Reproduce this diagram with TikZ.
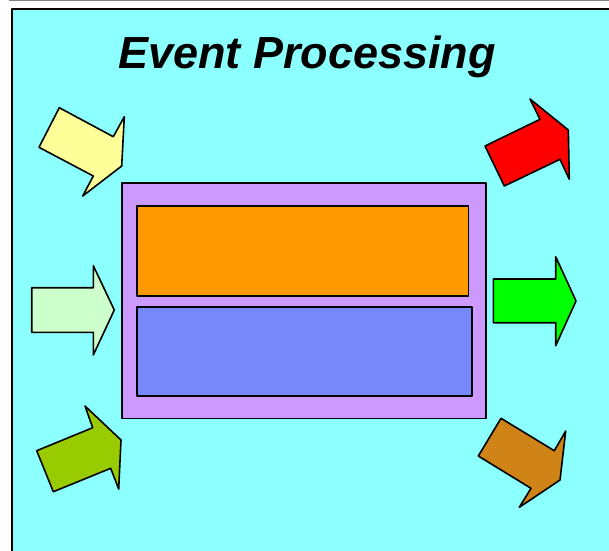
\documentclass[tikz,border=0pt]{standalone}
\usepackage{fontspec}
\setmainfont{Liberation Sans}

\definecolor{skycyan}{HTML}{8CFFFF}
\definecolor{framelilac}{HTML}{CC99FF}
\definecolor{topbox}{HTML}{FF9900}
\definecolor{lowbox}{HTML}{7788FA}
\definecolor{inyellow}{HTML}{FFFF99}
\definecolor{inmint}{HTML}{CCFFCC}
\definecolor{inolive}{HTML}{99CC00}
\definecolor{outred}{HTML}{FF0000}
\definecolor{outgreen}{HTML}{00FF00}
\definecolor{outbrown}{HTML}{D08418}

\tikzset{
  outlined/.style={draw=black, line width=1.6pt, line join=round},
}

\begin{document}
\begin{tikzpicture}[x=1pt, y=-1pt]
    \useasboundingbox (0,0) rectangle (609,550);
    \fill[white] (0,0) rectangle (609,550);

    % page edge and the cyan slide
    \draw[gray, line width=1.2pt] (9,0.6) -- (609,0.6);
    \fill[gray!70] (14,11) rectangle (612,553);
    \draw[outlined, fill=skycyan] (12,9) rectangle (611,552);

    \node[anchor=base, font=\fontsize{45}{50}\selectfont\bfseries\itshape] (title) at (307,68) {Event Processing};

    % the processing block
    \draw[outlined, fill=framelilac] (121.7,182.7) rectangle (485.7,418.3);
    \draw[outlined, fill=topbox] (136.7,206) rectangle (468.3,295.7);
    \draw[outlined, fill=lowbox] (136.7,306.7) rectangle (472,395.7);

    % incoming events
    \draw[outlined, fill=inyellow] (59.3,107.7) -- (113.3,136.7) -- (124.3,116.7) -- (121.7,166)
        -- (82.7,196) -- (93.3,176) -- (39,147.3) -- cycle;
    \draw[outlined, fill=inmint] (31.7,287.7) -- (93.3,287.7) -- (93.3,265.7) -- (114.3,310)
        -- (93.3,355) -- (93.3,332.3) -- (31.7,332.3) -- cycle;
    \draw[outlined, fill=inolive] (36.7,450.7) -- (92.7,427.7) -- (85,406) -- (121,440)
        -- (118.7,489) -- (110.7,468.3) -- (53.3,491.7) -- cycle;

    % outgoing events
    \draw[outlined, fill=outred] (485,146) -- (540,119.3) -- (530,99) -- (568.3,130)
        -- (569.3,179.3) -- (560,159.3) -- (504.3,186) -- cycle;
    \draw[outlined, fill=outgreen] (493.3,279) -- (555.7,279) -- (555.7,256.7) -- (576,301)
        -- (555.7,345.7) -- (555.7,322.7) -- (493.3,322.7) -- cycle;
    \draw[outlined, fill=outbrown] (501,418.3) -- (554.3,450.7) -- (565.7,431) -- (560,480)
        -- (519.3,507.3) -- (531,488.3) -- (478.3,456) -- cycle;
\end{tikzpicture}
\end{document}
